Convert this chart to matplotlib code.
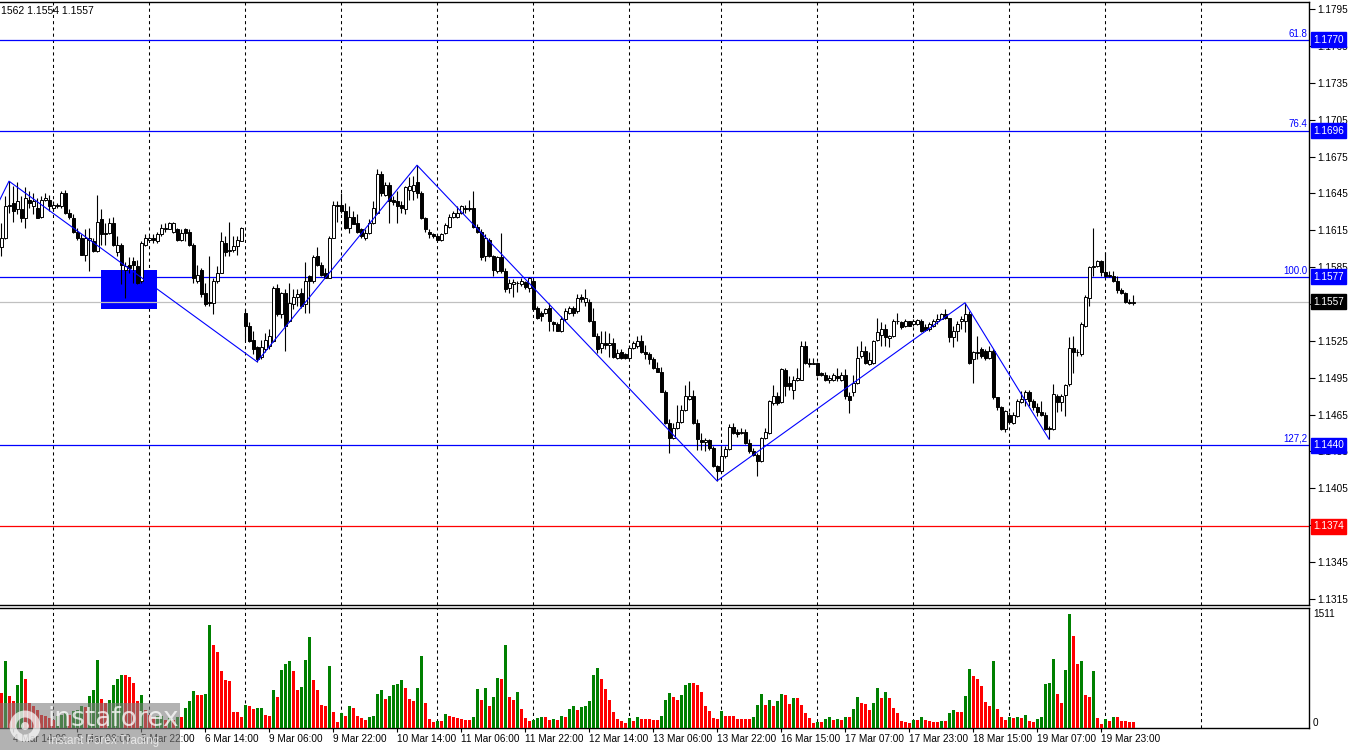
import matplotlib
matplotlib.use("Agg")
import matplotlib.pyplot as plt
import matplotlib.transforms as mtransforms
from matplotlib.patches import Rectangle, Circle

plt.rcParams['font.family'] = ['Liberation Sans', 'DejaVu Sans']

# EURUSD H1, one entry per hourly bar
opens = [
    1.1601, 1.1609, 1.1635, 1.1637, 1.1632, 1.1632, 1.1625, 1.1640, 1.1635, 1.1633,
    1.1626, 1.1640, 1.1640, 1.1633, 1.1636, 1.1635, 1.1645, 1.1629, 1.1625, 1.1614,
    1.1609, 1.1595, 1.1607, 1.1606, 1.1598, 1.1624, 1.1613, 1.1613, 1.1621, 1.1597,
    1.1603, 1.1583, 1.1587, 1.1590, 1.1586, 1.1574, 1.1603, 1.1607, 1.1609, 1.1606,
    1.1612, 1.1616, 1.1616, 1.1614, 1.1616, 1.1607, 1.1616, 1.1614, 1.1603, 1.1574,
    1.1583, 1.1564, 1.1557, 1.1556, 1.1574, 1.1580, 1.1605, 1.1598, 1.1599, 1.1602,
    1.1606, 1.1548, 1.1537, 1.1526, 1.1520, 1.1512, 1.1518, 1.1521, 1.1525, 1.1568,
    1.1547, 1.1564, 1.1541, 1.1555, 1.1561, 1.1564, 1.1555, 1.1578, 1.1574, 1.1594,
    1.1587, 1.1580, 1.1576, 1.1609, 1.1636, 1.1636, 1.1631, 1.1617, 1.1626, 1.1621,
    1.1616, 1.1609, 1.1613, 1.1621, 1.1629, 1.1661, 1.1644, 1.1652, 1.1640, 1.1639,
    1.1636, 1.1632, 1.1648, 1.1647, 1.1654, 1.1645, 1.1625, 1.1614, 1.1612, 1.1610,
    1.1607, 1.1613, 1.1618, 1.1626, 1.1626, 1.1629, 1.1633, 1.1632, 1.1633, 1.1618,
    1.1614, 1.1594, 1.1607, 1.1594, 1.1582, 1.1593, 1.1582, 1.1568, 1.1571, 1.1572,
    1.1571, 1.1573, 1.1568, 1.1574, 1.1552, 1.1548, 1.1548, 1.1552, 1.1540, 1.1539,
    1.1533, 1.1543, 1.1548, 1.1552, 1.1549, 1.1561, 1.1557, 1.1557, 1.1541, 1.1529,
    1.1519, 1.1523, 1.1522, 1.1523, 1.1511, 1.1516, 1.1514, 1.1511, 1.1519, 1.1521,
    1.1525, 1.1516, 1.1514, 1.1510, 1.1503, 1.1500, 1.1483, 1.1458, 1.1446, 1.1454,
    1.1459, 1.1469, 1.1478, 1.1480, 1.1458, 1.1444, 1.1443, 1.1444, 1.1438, 1.1423,
    1.1419, 1.1431, 1.1437, 1.1455, 1.1451, 1.1450, 1.1451, 1.1442, 1.1435, 1.1432,
    1.1427, 1.1446, 1.1450, 1.1474, 1.1480, 1.1475, 1.1501, 1.1491, 1.1485, 1.1493,
    1.1493, 1.1521, 1.1507, 1.1506, 1.1507, 1.1499, 1.1497, 1.1493, 1.1493, 1.1496,
    1.1493, 1.1497, 1.1480, 1.1483, 1.1491, 1.1513, 1.1517, 1.1506, 1.1507, 1.1526,
    1.1530, 1.1535, 1.1527, 1.1529, 1.1541, 1.1540, 1.1537, 1.1541, 1.1539, 1.1539,
    1.1541, 1.1536, 1.1535, 1.1537, 1.1541, 1.1543, 1.1547, 1.1544, 1.1528, 1.1533,
    1.1541, 1.1541, 1.1547, 1.1510, 1.1515, 1.1518, 1.1517, 1.1511, 1.1517, 1.1479,
    1.1471, 1.1453, 1.1465, 1.1458, 1.1464, 1.1475, 1.1478, 1.1483, 1.1476, 1.1471,
    1.1467, 1.1465, 1.1454, 1.1453, 1.1480, 1.1475, 1.1481, 1.1490, 1.1519, 1.1516,
    1.1514, 1.1537, 1.1560, 1.1585, 1.1586, 1.1590, 1.1581, 1.1579, 1.1578, 1.1574,
    1.1566, 1.1564, 1.1557, 1.1556,
]
highs = [
    1.1621, 1.1643, 1.1655, 1.1651, 1.1654, 1.1643, 1.1650, 1.1647, 1.1645, 1.1641,
    1.1643, 1.1645, 1.1644, 1.1639, 1.1637, 1.1647, 1.1648, 1.1632, 1.1628, 1.1617,
    1.1612, 1.1616, 1.1617, 1.1609, 1.1644, 1.1632, 1.1621, 1.1625, 1.1626, 1.1610,
    1.1605, 1.1589, 1.1593, 1.1593, 1.1591, 1.1606, 1.1612, 1.1610, 1.1612, 1.1614,
    1.1620, 1.1621, 1.1622, 1.1622, 1.1617, 1.1616, 1.1617, 1.1616, 1.1605, 1.1587,
    1.1584, 1.1572, 1.1594, 1.1576, 1.1586, 1.1614, 1.1610, 1.1622, 1.1610, 1.1610,
    1.1618, 1.1551, 1.1540, 1.1533, 1.1521, 1.1526, 1.1531, 1.1535, 1.1570, 1.1571,
    1.1565, 1.1567, 1.1572, 1.1567, 1.1567, 1.1568, 1.1589, 1.1579, 1.1595, 1.1601,
    1.1589, 1.1584, 1.1610, 1.1639, 1.1639, 1.1645, 1.1637, 1.1635, 1.1631, 1.1628,
    1.1617, 1.1616, 1.1624, 1.1639, 1.1665, 1.1663, 1.1654, 1.1654, 1.1643, 1.1647,
    1.1639, 1.1651, 1.1658, 1.1659, 1.1668, 1.1647, 1.1626, 1.1616, 1.1613, 1.1612,
    1.1613, 1.1621, 1.1628, 1.1631, 1.1635, 1.1636, 1.1636, 1.1640, 1.1647, 1.1620,
    1.1616, 1.1612, 1.1609, 1.1595, 1.1594, 1.1613, 1.1584, 1.1575, 1.1575, 1.1574,
    1.1576, 1.1574, 1.1577, 1.1576, 1.1553, 1.1549, 1.1552, 1.1556, 1.1541, 1.1540,
    1.1545, 1.1552, 1.1553, 1.1553, 1.1563, 1.1563, 1.1567, 1.1559, 1.1552, 1.1531,
    1.1533, 1.1533, 1.1531, 1.1527, 1.1518, 1.1518, 1.1515, 1.1522, 1.1525, 1.1529,
    1.1530, 1.1522, 1.1516, 1.1512, 1.1508, 1.1504, 1.1485, 1.1461, 1.1458, 1.1473,
    1.1473, 1.1489, 1.1492, 1.1485, 1.1461, 1.1450, 1.1446, 1.1445, 1.1439, 1.1424,
    1.1439, 1.1439, 1.1457, 1.1458, 1.1453, 1.1454, 1.1453, 1.1445, 1.1438, 1.1434,
    1.1447, 1.1454, 1.1477, 1.1489, 1.1483, 1.1503, 1.1503, 1.1496, 1.1496, 1.1503,
    1.1525, 1.1525, 1.1511, 1.1511, 1.1508, 1.1500, 1.1500, 1.1497, 1.1499, 1.1503,
    1.1500, 1.1502, 1.1483, 1.1497, 1.1521, 1.1525, 1.1521, 1.1516, 1.1526, 1.1544,
    1.1540, 1.1539, 1.1530, 1.1543, 1.1548, 1.1541, 1.1543, 1.1541, 1.1543, 1.1543,
    1.1543, 1.1539, 1.1540, 1.1543, 1.1547, 1.1548, 1.1551, 1.1544, 1.1537, 1.1541,
    1.1545, 1.1556, 1.1549, 1.1517, 1.1529, 1.1520, 1.1518, 1.1521, 1.1518, 1.1479,
    1.1472, 1.1469, 1.1467, 1.1467, 1.1478, 1.1484, 1.1485, 1.1485, 1.1478, 1.1474,
    1.1476, 1.1467, 1.1456, 1.1490, 1.1482, 1.1482, 1.1490, 1.1528, 1.1529, 1.1518,
    1.1540, 1.1562, 1.1586, 1.1617, 1.1591, 1.1591, 1.1597, 1.1582, 1.1582, 1.1578,
    1.1568, 1.1565, 1.1559, 1.1562,
]
lows = [
    1.1594, 1.1608, 1.1629, 1.1622, 1.1628, 1.1622, 1.1617, 1.1633, 1.1628, 1.1625,
    1.1625, 1.1639, 1.1631, 1.1631, 1.1633, 1.1633, 1.1628, 1.1624, 1.1613, 1.1607,
    1.1595, 1.1590, 1.1582, 1.1597, 1.1597, 1.1603, 1.1603, 1.1612, 1.1602, 1.1594,
    1.1571, 1.1560, 1.1580, 1.1572, 1.1571, 1.1572, 1.1602, 1.1606, 1.1605, 1.1605,
    1.1610, 1.1614, 1.1616, 1.1613, 1.1606, 1.1606, 1.1606, 1.1602, 1.1572, 1.1572,
    1.1561, 1.1553, 1.1553, 1.1547, 1.1572, 1.1580, 1.1594, 1.1594, 1.1597, 1.1595,
    1.1606, 1.1525, 1.1524, 1.1514, 1.1508, 1.1510, 1.1516, 1.1518, 1.1524, 1.1545,
    1.1544, 1.1517, 1.1540, 1.1551, 1.1553, 1.1552, 1.1548, 1.1548, 1.1572, 1.1586,
    1.1578, 1.1576, 1.1576, 1.1609, 1.1622, 1.1629, 1.1616, 1.1613, 1.1620, 1.1613,
    1.1609, 1.1607, 1.1612, 1.1620, 1.1628, 1.1643, 1.1643, 1.1621, 1.1636, 1.1621,
    1.1629, 1.1628, 1.1640, 1.1640, 1.1641, 1.1624, 1.1614, 1.1609, 1.1609, 1.1606,
    1.1606, 1.1612, 1.1617, 1.1625, 1.1625, 1.1628, 1.1629, 1.1631, 1.1617, 1.1613,
    1.1591, 1.1590, 1.1593, 1.1578, 1.1580, 1.1580, 1.1565, 1.1564, 1.1561, 1.1565,
    1.1570, 1.1567, 1.1565, 1.1549, 1.1543, 1.1541, 1.1547, 1.1533, 1.1533, 1.1533,
    1.1532, 1.1541, 1.1547, 1.1545, 1.1548, 1.1557, 1.1553, 1.1540, 1.1529, 1.1515,
    1.1515, 1.1518, 1.1512, 1.1511, 1.1510, 1.1510, 1.1510, 1.1510, 1.1518, 1.1519,
    1.1515, 1.1510, 1.1506, 1.1502, 1.1500, 1.1483, 1.1457, 1.1434, 1.1445, 1.1453,
    1.1458, 1.1468, 1.1477, 1.1457, 1.1436, 1.1436, 1.1435, 1.1436, 1.1422, 1.1411,
    1.1418, 1.1430, 1.1436, 1.1449, 1.1447, 1.1449, 1.1441, 1.1434, 1.1431, 1.1415,
    1.1426, 1.1445, 1.1449, 1.1473, 1.1473, 1.1474, 1.1480, 1.1485, 1.1478, 1.1492,
    1.1493, 1.1506, 1.1504, 1.1506, 1.1496, 1.1496, 1.1492, 1.1491, 1.1492, 1.1492,
    1.1492, 1.1478, 1.1466, 1.1480, 1.1490, 1.1511, 1.1506, 1.1505, 1.1506, 1.1525,
    1.1521, 1.1521, 1.1520, 1.1528, 1.1539, 1.1535, 1.1536, 1.1537, 1.1537, 1.1538,
    1.1532, 1.1533, 1.1533, 1.1536, 1.1539, 1.1543, 1.1543, 1.1524, 1.1520, 1.1525,
    1.1535, 1.1532, 1.1506, 1.1491, 1.1510, 1.1511, 1.1509, 1.1510, 1.1478, 1.1469,
    1.1452, 1.1451, 1.1457, 1.1457, 1.1463, 1.1474, 1.1472, 1.1472, 1.1469, 1.1464,
    1.1464, 1.1452, 1.1445, 1.1452, 1.1467, 1.1468, 1.1464, 1.1488, 1.1499, 1.1513,
    1.1513, 1.1536, 1.1553, 1.1578, 1.1585, 1.1578, 1.1577, 1.1577, 1.1573, 1.1564,
    1.1563, 1.1556, 1.1555, 1.1554,
]
closes = [
    1.1609, 1.1635, 1.1636, 1.1631, 1.1639, 1.1625, 1.1641, 1.1637, 1.1639, 1.1625,
    1.1640, 1.1641, 1.1635, 1.1636, 1.1635, 1.1645, 1.1629, 1.1626, 1.1614, 1.1609,
    1.1595, 1.1609, 1.1609, 1.1598, 1.1622, 1.1612, 1.1612, 1.1621, 1.1603, 1.1603,
    1.1587, 1.1586, 1.1584, 1.1587, 1.1572, 1.1605, 1.1609, 1.1609, 1.1607, 1.1612,
    1.1617, 1.1617, 1.1621, 1.1621, 1.1607, 1.1613, 1.1613, 1.1603, 1.1576, 1.1579,
    1.1563, 1.1555, 1.1556, 1.1574, 1.1580, 1.1606, 1.1597, 1.1599, 1.1602, 1.1607,
    1.1617, 1.1537, 1.1525, 1.1518, 1.1510, 1.1520, 1.1526, 1.1529, 1.1568, 1.1547,
    1.1564, 1.1537, 1.1556, 1.1561, 1.1563, 1.1553, 1.1574, 1.1574, 1.1593, 1.1587,
    1.1579, 1.1576, 1.1609, 1.1636, 1.1635, 1.1631, 1.1617, 1.1626, 1.1620, 1.1614,
    1.1610, 1.1613, 1.1621, 1.1633, 1.1661, 1.1645, 1.1652, 1.1639, 1.1638, 1.1635,
    1.1633, 1.1650, 1.1651, 1.1652, 1.1645, 1.1625, 1.1616, 1.1612, 1.1610, 1.1607,
    1.1612, 1.1619, 1.1626, 1.1629, 1.1629, 1.1635, 1.1632, 1.1633, 1.1618, 1.1614,
    1.1593, 1.1609, 1.1594, 1.1583, 1.1593, 1.1582, 1.1567, 1.1572, 1.1573, 1.1572,
    1.1574, 1.1569, 1.1576, 1.1551, 1.1544, 1.1545, 1.1551, 1.1541, 1.1539, 1.1533,
    1.1543, 1.1549, 1.1552, 1.1548, 1.1560, 1.1559, 1.1560, 1.1541, 1.1529, 1.1518,
    1.1523, 1.1522, 1.1523, 1.1512, 1.1515, 1.1511, 1.1511, 1.1519, 1.1523, 1.1525,
    1.1516, 1.1514, 1.1510, 1.1503, 1.1500, 1.1483, 1.1458, 1.1446, 1.1454, 1.1459,
    1.1469, 1.1480, 1.1480, 1.1458, 1.1445, 1.1443, 1.1444, 1.1438, 1.1423, 1.1419,
    1.1431, 1.1437, 1.1455, 1.1450, 1.1449, 1.1451, 1.1442, 1.1435, 1.1432, 1.1427,
    1.1446, 1.1451, 1.1476, 1.1480, 1.1474, 1.1502, 1.1488, 1.1488, 1.1493, 1.1495,
    1.1521, 1.1507, 1.1506, 1.1507, 1.1497, 1.1497, 1.1493, 1.1495, 1.1497, 1.1495,
    1.1497, 1.1480, 1.1477, 1.1491, 1.1511, 1.1517, 1.1507, 1.1509, 1.1525, 1.1532,
    1.1535, 1.1528, 1.1529, 1.1541, 1.1541, 1.1536, 1.1541, 1.1537, 1.1541, 1.1542,
    1.1533, 1.1534, 1.1539, 1.1541, 1.1543, 1.1547, 1.1544, 1.1528, 1.1533, 1.1539,
    1.1543, 1.1547, 1.1507, 1.1516, 1.1516, 1.1513, 1.1511, 1.1517, 1.1479, 1.1471,
    1.1453, 1.1468, 1.1459, 1.1465, 1.1476, 1.1478, 1.1483, 1.1476, 1.1471, 1.1467,
    1.1465, 1.1453, 1.1453, 1.1482, 1.1475, 1.1480, 1.1489, 1.1519, 1.1516, 1.1516,
    1.1539, 1.1561, 1.1585, 1.1586, 1.1590, 1.1581, 1.1578, 1.1578, 1.1574, 1.1566,
    1.1564, 1.1557, 1.1556, 1.1557,
]
volumes = [
    464, 893, 420, 354, 575, 760, 654, 332, 287, 243,
    177, 155, 133, 110, 155, 177, 199, 177, 221, 243,
    287, 278, 420, 508, 906, 389, 332, 376, 575, 654,
    707, 707, 672, 597, 354, 442, 243, 177, 133, 155,
    164, 110, 133, 110, 141, 141, 265, 354, 486, 442,
    433, 455, 1370, 1096, 1003, 760, 641, 619, 208, 208,
    141, 309, 287, 252, 261, 270, 177, 155, 508, 407,
    774, 853, 893, 760, 499, 544, 906, 1202, 641, 499,
    309, 296, 818, 208, 80, 203, 155, 287, 265, 164,
    133, 102, 146, 155, 455, 499, 389, 429, 566, 588,
    641, 535, 389, 362, 535, 959, 332, 124, 80, 97,
    88, 190, 155, 146, 133, 124, 110, 110, 141, 522,
    376, 535, 296, 415, 667, 654, 1105, 415, 376, 482,
    256, 137, 88, 110, 128, 146, 146, 110, 124, 110,
    164, 150, 256, 296, 243, 283, 296, 362, 707, 800,
    654, 522, 376, 217, 124, 97, 71, 137, 97, 150,
    124, 124, 124, 110, 110, 164, 376, 469, 415, 376,
    442, 575, 601, 601, 575, 482, 296, 230, 137, 124,
    230, 164, 164, 164, 115, 115, 115, 115, 141, 309,
    455, 309, 376, 296, 362, 455, 442, 323, 402, 402,
    309, 199, 128, 71, 84, 84, 124, 146, 102, 124,
    102, 146, 146, 256, 415, 332, 323, 243, 332, 535,
    402, 482, 402, 270, 199, 88, 80, 71, 110, 110,
    146, 110, 97, 84, 84, 97, 97, 203, 243, 217,
    217, 429, 787, 694, 654, 561, 349, 296, 893, 256,
    150, 110, 150, 137, 146, 133, 177, 97, 84, 124,
    150, 588, 601, 919, 455, 336, 774, 1511, 1224, 853,
    893, 442, 415, 760, 137, 57, 124, 97, 150, 150,
    97, 97, 84, 84,
]

price_ticks = [1.1315, 1.1345, 1.1375, 1.1405, 1.1435, 1.1465, 1.1495, 1.1525, 1.1555,
               1.1585, 1.1615, 1.1645, 1.1675, 1.1705, 1.1735, 1.1765, 1.1795]
# labels fully hidden under a price tag are left blank
price_tick_labels = ["1.1315", "1.1345", "", "1.1405", "1.1435", "1.1465", "1.1495", "1.1525", "",
                     "1.1585", "1.1615", "1.1645", "1.1675", "1.1705", "1.1735", "1.1765", "1.1795"]
fib_levels = [1.1770, 1.1696, 1.1577, 1.1440]
fib_names = ["61.8", "76.4", "100.0", "127,2"]
support_level = 1.1374
last_price = 1.1557

# zigzag pivots (bar index, price)
zz_bars = [-3, 2, 64, 104, 179, 241, 262]
zz_prices = [1.1622, 1.1655, 1.1508, 1.1668, 1.1411, 1.1556, 1.1445]

box_bars = (25, 39)
box_prices = (1.1551, 1.1583)

day_bars = [13, 37, 61, 85, 109, 133, 157, 180, 204, 228, 252, 276, 300]
label_bars = [3, 19, 35, 51, 67, 83, 99, 115, 131, 147, 163, 179, 195, 211, 227, 243, 259, 275]
label_texts = ["4 Mar 14:00", "5 Mar 06:00", "5 Mar 22:00", "6 Mar 14:00", "9 Mar 06:00",
               "9 Mar 22:00", "10 Mar 14:00", "11 Mar 06:00", "11 Mar 22:00", "12 Mar 14:00",
               "13 Mar 06:00", "13 Mar 22:00", "16 Mar 15:00", "17 Mar 07:00", "17 Mar 23:00",
               "18 Mar 15:00", "19 Mar 07:00", "19 Mar 23:00"]

bars = list(range(len(closes)))

W, H = 1350, 750
fig = plt.figure(figsize=(13.5, 7.5), dpi=100)
fig.patch.set_facecolor("white")


def px_box(x0, y0, x1, y1):
    return [x0 / W, 1 - y1 / H, (x1 - x0) / W, (y1 - y0) / H]


ax = fig.add_axes(px_box(0, 2, 1309, 605))
axv = fig.add_axes(px_box(0, 607.5, 1309, 728))

for a in (ax, axv):
    a.set_xlim(-0.25, 327)
    a.set_facecolor("white")
    a.spines["left"].set_visible(False)
    for s in ("top", "right", "bottom"):
        a.spines[s].set_linewidth(1.0)
        a.spines[s].set_color("black")
    for b in day_bars:
        a.axvline(b, color="black", lw=0.75, ls=(0, (3, 3)), zorder=1)

ax.set_ylim(1.13099, 1.18009)

# rectangle zone
ax.add_patch(Rectangle((box_bars[0], box_prices[0]), box_bars[1] - box_bars[0],
                       box_prices[1] - box_prices[0], fc="#0000FF", ec="none", zorder=1.5))

for lvl, name in zip(fib_levels, fib_names):
    ax.axhline(lvl, color="#0000FF", lw=0.9, zorder=2)
    ax.annotate(name, xy=(0.9985, lvl), xycoords=ax.get_yaxis_transform(),
                xytext=(0, 1), textcoords="offset points", ha="right", va="bottom",
                fontsize=7, color="#0000FF")
ax.axhline(support_level, color="#FF0000", lw=0.9, zorder=2)
ax.axhline(last_price, color="#C0C0C0", lw=0.9, zorder=2)

ax.plot(zz_bars, zz_prices, color="#0000FF", lw=0.8, zorder=5)

# candles
body_bottom = [min(o, c) for o, c in zip(opens, closes)]
body_height = [max(abs(c - o), 0.000004) for o, c in zip(opens, closes)]
body_color = ["white" if c > o else "black" for o, c in zip(opens, closes)]
ax.vlines(bars, lows, highs, color="black", lw=0.8, zorder=3)
ax.bar(bars, body_height, bottom=body_bottom, width=0.75, color=body_color,
       edgecolor="black", linewidth=0.7, zorder=4)

ax.set_xticks([])
ax.yaxis.tick_right()
ax.set_yticks(price_ticks)
ax.set_yticklabels(price_tick_labels)
ax.tick_params(axis="y", direction="out", length=4, width=0.8, pad=2, labelsize=7.2)

tag_trans = mtransforms.offset_copy(ax.get_yaxis_transform(), fig=fig, x=4, y=0, units="dots")


def price_tag(y, text, color):
    ax.text(1.0, y, text, transform=tag_trans, ha="left", va="center", fontsize=7.2,
            color="white", clip_on=False, zorder=10,
            bbox=dict(boxstyle="square,pad=0.25", fc=color, ec=color))


for lvl in fib_levels:
    price_tag(lvl, "%.4f" % lvl, "#0000FF")
price_tag(support_level, "%.4f" % support_level, "#FF0000")
price_tag(last_price, "%.4f" % last_price, "black")

# volumes: green when volume rises vs. previous bar
vol_colors = ["#FF0000"] + ["#008000" if volumes[i] > volumes[i - 1] else "#FF0000"
                             for i in range(1, len(volumes))]
axv.bar(bars, volumes, width=0.75, color=vol_colors, zorder=3)
axv.set_ylim(0, 1597)
axv.set_yticks([])
axv.set_xticks(label_bars)
axv.set_xticklabels(label_texts, ha="left")
axv.tick_params(axis="x", direction="out", length=3, width=0.8, pad=1.5, labelsize=7.2)

vtrans = mtransforms.offset_copy(axv.get_yaxis_transform(), fig=fig, x=4, y=0, units="dots")
axv.text(1.0, max(volumes), str(max(volumes)), transform=vtrans, ha="left", va="center",
         fontsize=7.2, clip_on=False)
axv.text(1.0, 0, "0", transform=vtrans, ha="left", va="bottom", fontsize=7.2, clip_on=False)

# header
fig.text(1 / W, 1 - 11 / H, "1562 1.1554 1.1557", fontsize=7.5, ha="left", va="center")

# watermark
fig.add_artist(Rectangle((0, 0), 180 / W, 47 / H, transform=fig.transFigure,
                         fc="#7f7f7f", ec="none", alpha=0.6, zorder=10))
fig.add_artist(Circle((0.25, 0.24), 0.12, transform=fig.dpi_scale_trans, fill=False,
                      ec="white", lw=5, alpha=0.7, zorder=11))
fig.add_artist(Circle((0.25, 0.24), 0.04, transform=fig.dpi_scale_trans,
                      fc="white", ec="none", alpha=0.7, zorder=11))
fig.text(47 / W, 1 - 719 / H, "instaforex", fontsize=19, color="white", va="center",
         family="DejaVu Sans", alpha=0.75, zorder=11)
fig.text(48 / W, 1 - 741 / H, "Instant Forex Trading", fontsize=8.5, color="#f0f0f0",
         va="center", alpha=0.85, zorder=11)

fig.savefig("out.png", dpi=100)
